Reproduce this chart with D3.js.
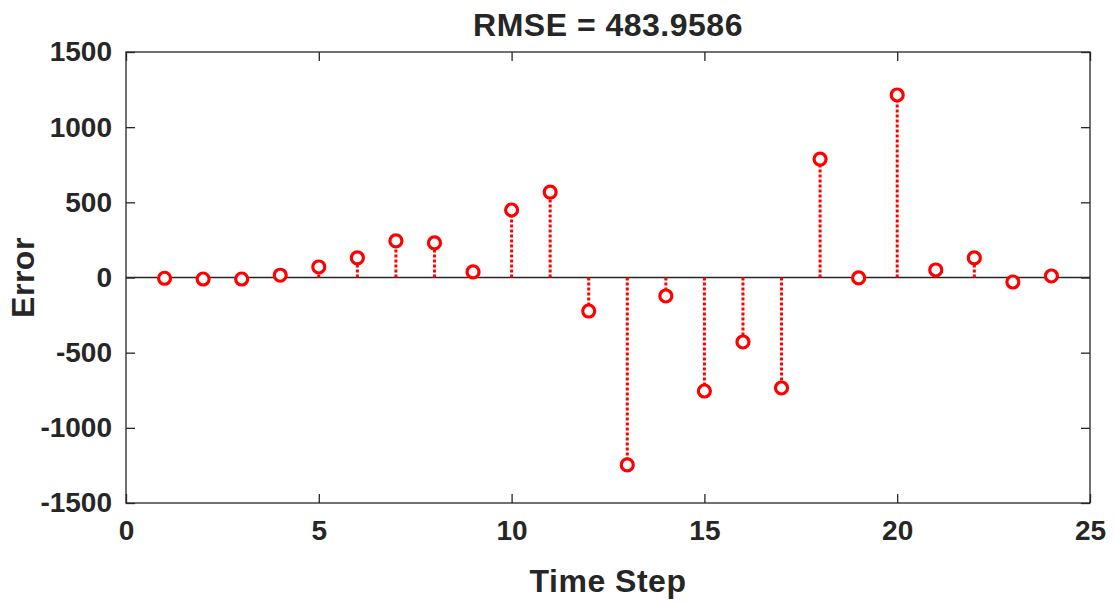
<!DOCTYPE html>
<html>
<head>
<meta charset="utf-8">
<script src="https://cdn.jsdelivr.net/npm/d3@7"></script>
<style>
  body { margin: 0; background: #fff; }
  text { font-family: "Liberation Sans", Arial, sans-serif; font-weight: bold; fill: #262626; }
</style>
</head>
<body>
<div id="chart"></div>
<script>
// error per time step
var steps = [1, 2, 3, 4, 5, 6, 7, 8, 9, 10, 11, 12, 13, 14, 15, 16, 17, 18, 19, 20, 21, 22, 23, 24];
var errors = [-5, -10, -10, 15, 70, 130, 243, 230, 37, 449, 568, -223, -1247, -123, -755, -429, -735, 788, -3, 1214, 50, 130, -30, 10];
var xTicks = [0, 5, 10, 15, 20, 25];
var yTicks = [-1500, -1000, -500, 0, 500, 1000, 1500];
var title = "RMSE = 483.9586";

var W = 1115, H = 604;
var margin = { top: 52, right: 25, bottom: 101, left: 126 },
    width = W - margin.left - margin.right,
    height = H - margin.top - margin.bottom;

var svg = d3.select("#chart").append("svg")
    .attr("width", W)
    .attr("height", H);

var g = svg.append("g")
    .attr("transform", "translate(" + margin.left + "," + margin.top + ")");

var x = d3.scaleLinear().domain([0, 25]).range([0, width]);
var y = d3.scaleLinear().domain([-1500, 1500]).range([height, 0]);

var axisColor = "#262626";
var tickLen = 9;
var plain = function (d) { return String(d); }; // no commas, plain hyphen minus

// box
g.append("rect")
    .attr("width", width).attr("height", height)
    .attr("fill", "none").attr("stroke", axisColor).attr("stroke-width", 1.3);

// bottom axis (ticks inward)
g.append("g")
    .attr("transform", "translate(0," + height + ")")
    .call(d3.axisBottom(x).tickValues(xTicks).tickSize(-tickLen).tickPadding(17).tickFormat(plain));
// top ticks
g.append("g")
    .call(d3.axisTop(x).tickValues(xTicks).tickSize(-tickLen).tickFormat(""));
// left axis
g.append("g")
    .call(d3.axisLeft(y).tickValues(yTicks).tickSize(-tickLen).tickPadding(14).tickFormat(plain));
// right ticks
g.append("g")
    .attr("transform", "translate(" + width + ",0)")
    .call(d3.axisRight(y).tickValues(yTicks).tickSize(-tickLen).tickFormat(""));

g.selectAll(".domain").remove();
g.selectAll(".tick line").attr("stroke", axisColor).attr("stroke-width", 1.3);
g.selectAll(".tick text")
    .style("font-size", "28px")
    .style("font-family", "'Liberation Sans', Arial, sans-serif")
    .style("font-weight", "bold")
    .attr("fill", axisColor);

// zero baseline
g.append("line")
    .attr("x1", 0).attr("x2", width)
    .attr("y1", y(0)).attr("y2", y(0))
    .attr("stroke", axisColor).attr("stroke-width", 1.3);

// stems
g.append("g")
    .selectAll("line")
    .data(steps)
    .enter()
    .append("line")
    .attr("x1", function (d) { return x(d); })
    .attr("x2", function (d) { return x(d); })
    .attr("y1", y(0))
    .attr("y2", function (d, i) { return y(errors[i]); })
    .attr("stroke", "#ff0000")
    .attr("stroke-width", 3)
    .attr("stroke-dasharray", "3,2");

// markers
g.append("g")
    .selectAll("circle")
    .data(steps)
    .enter()
    .append("circle")
    .attr("cx", function (d) { return x(d); })
    .attr("cy", function (d, i) { return y(errors[i]); })
    .attr("r", 6)
    .attr("fill", "#fff")
    .attr("stroke", "#ff0000")
    .attr("stroke-width", 3.2);

// title and labels
svg.append("text")
    .attr("x", margin.left + width / 2).attr("y", 36)
    .attr("text-anchor", "middle")
    .style("font-size", "32px")
    .style("letter-spacing", "0.5px")
    .text(title);

svg.append("text")
    .attr("x", margin.left + width / 2).attr("y", 592)
    .attr("text-anchor", "middle")
    .style("font-size", "32px")
    .style("letter-spacing", "0.5px")
    .text("Time Step");

svg.append("text")
    .attr("transform", "translate(34," + (margin.top + height / 2) + ") rotate(-90)")
    .attr("text-anchor", "middle")
    .style("font-size", "32px")
    .style("letter-spacing", "0.5px")
    .text("Error");
</script>
</body>
</html>
